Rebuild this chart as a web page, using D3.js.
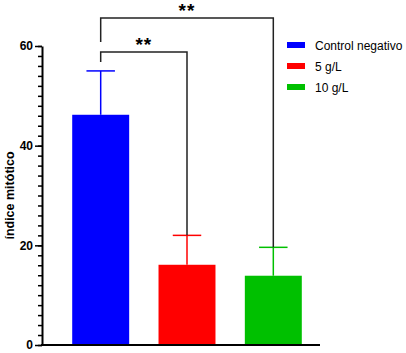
<!DOCTYPE html>
<html>
<head>
<meta charset="utf-8">
<script src="https://cdn.jsdelivr.net/npm/d3@7"></script>
<style>
  body { margin: 0; background: #fff; }
  text { font-family: "Liberation Sans", Arial, sans-serif; }
</style>
</head>
<body>
<svg id="chart"></svg>
<script>
// Data
var categories = ["Control negativo", "5 g/L", "10 g/L"];
var means = [46.2, 16.1, 13.9];
var errors = [8.8, 5.9, 5.7];
var colors = ["#0000ff", "#ff0000", "#00c000"];
var majorTicks = [0, 20, 40, 60];
var minorTicks = d3.range(0, 61, 2);
// significance brackets: [from index, to index, label]
var brackets = [[0, 1, "**"], [0, 2, "**"]];

var width = 406, height = 353;
var svg = d3.select("#chart").attr("width", width).attr("height", height);

var x = d3.scaleBand()
    .domain(categories)
    .range([42, 332])
    .paddingInner(0.34)
    .paddingOuter(0.35);

var y = d3.scaleLinear()
    .domain([0, 60])
    .range([345, 46]);

// bars
svg.selectAll("rect.bar")
    .data(categories)
    .enter()
    .append("rect")
    .attr("class", "bar")
    .attr("x", function(d) { return x(d); })
    .attr("y", function(d, i) { return y(means[i]); })
    .attr("width", x.bandwidth())
    .attr("height", function(d, i) { return y(0) - y(means[i]); })
    .attr("fill", function(d, i) { return colors[i]; });

// error bars (upper only)
var cap = x.bandwidth() / 2;
categories.forEach(function(c, i) {
    var cx = x(c) + x.bandwidth() / 2;
    var g = svg.append("g").attr("stroke", colors[i]).attr("stroke-width", 1.5);
    g.append("line")
        .attr("x1", cx).attr("x2", cx)
        .attr("y1", y(means[i])).attr("y2", y(means[i] + errors[i]));
    g.append("line")
        .attr("x1", cx - cap / 2).attr("x2", cx + cap / 2)
        .attr("y1", y(means[i] + errors[i])).attr("y2", y(means[i] + errors[i]));
});

// y axis minor ticks
svg.append("g")
    .attr("transform", "translate(42,0)")
    .call(d3.axisLeft(y).tickValues(minorTicks).tickSize(4).tickFormat(""))
    .call(function(g) { g.select(".domain").remove(); })
    .selectAll("line").attr("stroke", "#000").attr("stroke-width", 1.5);

// y axis major ticks
var yAxis = svg.append("g")
    .attr("transform", "translate(42,0)")
    .call(d3.axisLeft(y).tickValues(majorTicks).tickSize(7).tickSizeOuter(0).tickPadding(2));
yAxis.select(".domain").attr("stroke-width", 2);
yAxis.selectAll("line").attr("stroke-width", 1.5);
yAxis.selectAll("text")
    .style("font-family", "Liberation Sans, Arial, sans-serif")
    .style("font-size", "12px")
    .style("font-weight", "bold")
    .attr("fill", "#000");

// x axis line
svg.append("line")
    .attr("x1", 41).attr("x2", 320)
    .attr("y1", y(0)).attr("y2", y(0))
    .attr("stroke", "#000").attr("stroke-width", 2);

// y label
svg.append("text")
    .attr("transform", "rotate(-90)")
    .attr("x", -y(30))
    .attr("y", 14)
    .attr("text-anchor", "middle")
    .style("font-size", "12.5px")
    .style("font-weight", "bold")
    .text("índice mitótico");

// significance brackets
var bracketY = [52, 18];
var bracketStart = [62, 42];
brackets.forEach(function(b, k) {
    var x1 = x(categories[b[0]]) + x.bandwidth() / 2;
    var x2 = x(categories[b[1]]) + x.bandwidth() / 2;
    var yEnd = y(means[b[1]] + errors[b[1]]);
    svg.append("path")
        .attr("d", "M" + x1 + "," + bracketStart[k] + "V" + bracketY[k] + "H" + x2 + "V" + yEnd)
        .attr("fill", "none")
        .attr("stroke", "#222")
        .attr("stroke-width", 1.5);
    svg.append("text")
        .attr("x", (x1 + x2) / 2)
        .attr("y", bracketY[k] - 1)
        .attr("text-anchor", "middle")
        .style("font-size", "19px")
        .style("font-weight", "bold")
        .style("letter-spacing", "1px")
        .text(b[2]);
});

// legend
var legend = svg.append("g").attr("transform", "translate(287,44)");
categories.forEach(function(c, i) {
    var row = legend.append("g").attr("transform", "translate(0," + (i * 21) + ")");
    row.append("rect")
        .attr("x", 0).attr("y", -2)
        .attr("width", 18).attr("height", 6)
        .attr("fill", colors[i]);
    row.append("text")
        .attr("x", 28).attr("y", 5.5)
        .style("font-size", "12px")
        .text(c);
});
</script>
</body>
</html>
